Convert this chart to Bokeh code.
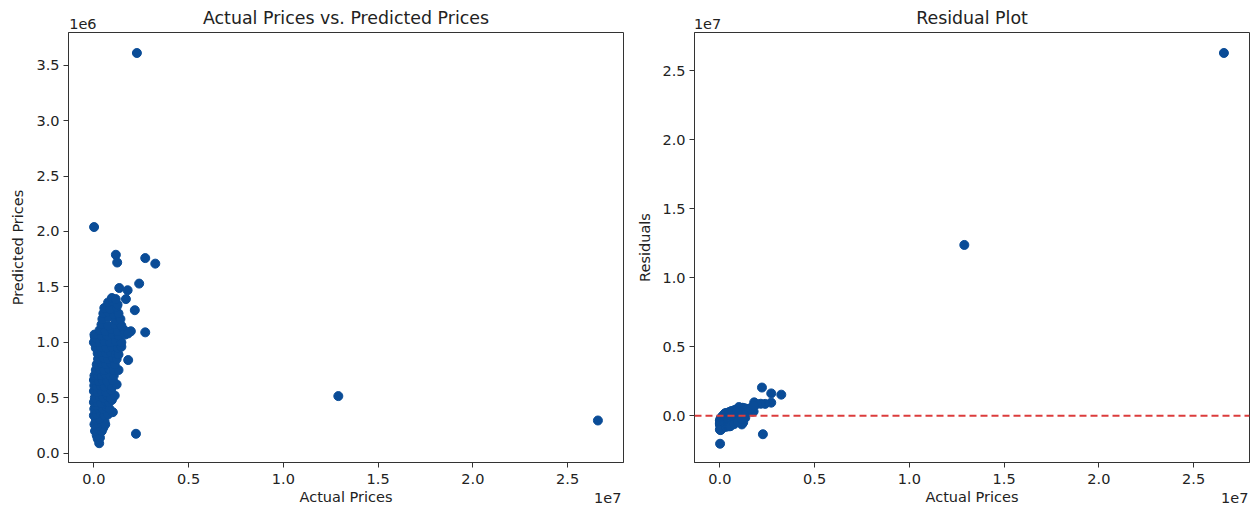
from bokeh.plotting import figure
from bokeh.models import Range1d, FixedTicker, Span, ColumnDataSource, CustomJSTickFormatter, LinearAxis
from bokeh.layouts import row
from bokeh.embed import file_html
from bokeh.resources import INLINE

# values in thousands of dollars
actual_k = [
    26600, 12900, 2270, 10, 1160, 1230, 2710, 3240, 2390, 1340, 1780, 1690, 2160, 2710, 1810, 2220, 50, 280,
    200, 320, 240, 150,
    60, 280, 420, 500, 170,
    30, 200, 380, 560, 600, 110, 300,
    0, 150, 350, 550, 750, 1000,
    20, 250, 450, 650, 820, 100,
    0, 180, 380, 600, 800, 950,
    50, 300, 500, 700, 880, 1100,
    0, 200, 400, 650, 900,
    20, 150, 350, 550, 800, 950, 1200,
    0, 250, 450, 700, 1000,
    30, 180, 400, 600, 850, 1050,
    100, 300, 550, 800, 1050, 1300,
    150, 400, 650, 900, 1100,
    220, 500, 750, 1000, 1200,
    200, 400, 650, 900, 1150, 1300,
    100, 350, 650, 950, 1250, 1450,
    0, 80, 300, 550, 850, 1150, 1450,
    30, 400, 700, 1000, 1300, 1650,
    300, 600, 900, 1250, 1600, 1950, 1800,
    400, 750, 1100, 1450,
    450, 750, 1150, 1400,
    500, 750, 1050, 1300,
    550, 850, 1200,
    750, 1000, 1250,
    950, 1150,
]
predicted_k = [
    295, 515, 3610, 2040, 1790, 1720, 1760, 1710, 1530, 1490, 1470, 1390, 1290, 1090, 840, 175, 1050, 90,
    130, 140, 170, 160,
    200, 210, 200, 230, 240,
    260, 270, 280, 290, 260, 300, 310,
    340, 350, 360, 340, 350, 370,
    400, 410, 400, 420, 400, 430,
    460, 460, 450, 470, 460, 480,
    500, 510, 500, 520, 500, 520,
    560, 550, 560, 550, 570,
    610, 600, 610, 600, 620, 600, 620,
    660, 650, 660, 650, 660,
    700, 710, 700, 710, 700, 700,
    750, 760, 750, 760, 750, 750,
    800, 810, 800, 810, 800,
    850, 860, 850, 860, 850,
    900, 910, 900, 910, 900, 890,
    950, 960, 950, 960, 950, 960,
    1000, 1040, 1000, 1010, 1000, 1010, 1000,
    1070, 1060, 1060, 1070, 1060, 1070,
    1110, 1100, 1120, 1100, 1110, 1100, 1080,
    1160, 1150, 1160, 1150,
    1210, 1230, 1200, 1210,
    1260, 1270, 1250, 1260,
    1310, 1300, 1320,
    1360, 1370, 1340,
    1400, 1390,
]
residuals_k = [
    26305, 12385, -1340, -2030, -630, -490, 950, 1530, 860, -150, 310, 300, 870, 1620, 970, 2045, -1000, 190,
    70, 180, 70, -10,
    -140, 70, 220, 270, -70,
    -230, -70, 100, 270, 340, -190, -10,
    -340, -200, -10, 210, 400, 630,
    -380, -160, 50, 230, 420, -330,
    -460, -280, -70, 130, 340, 470,
    -450, -210, 0, 180, 380, 580,
    -560, -350, -160, 100, 330,
    -590, -450, -260, -50, 180, 350, 580,
    -660, -400, -210, 50, 340,
    -670, -530, -300, -110, 150, 350,
    -650, -460, -200, 40, 300, 550,
    -650, -410, -150, 90, 300,
    -630, -360, -100, 140, 350,
    -700, -510, -250, -10, 250, 410,
    -850, -610, -300, -10, 300, 490,
    -1000, -960, -700, -460, -150, 140, 450,
    -1040, -660, -360, -70, 240, 580,
    -810, -500, -220, 150, 490, 850, 720,
    -760, -400, -60, 300,
    -760, -480, -50, 190,
    -760, -520, -200, 40,
    -760, -450, -120,
    -610, -370, -90,
    -450, -240,
]

x_ticks = [0, 5e6, 1e7, 1.5e7, 2e7, 2.5e7]
left_y_ticks = [0, 5e5, 1e6, 1.5e6, 2e6, 2.5e6, 3e6, 3.5e6]
right_y_ticks = [0, 5e6, 1e7, 1.5e7, 2e7, 2.5e7]

src = ColumnDataSource(dict(
    actual=[v * 1000 for v in actual_k],
    predicted=[v * 1000 for v in predicted_k],
    residual=[v * 1000 for v in residuals_k],
))

FONT = "DejaVu Sans"
TXT = "#222222"
DOT = "#0a4c97"
FS = "14.5px"
FRAME_W = 555
FRAME_H = 430


def text_axis(ax):
    ax.major_label_text_font = FONT
    ax.major_label_text_font_size = FS
    ax.major_label_text_color = TXT
    ax.axis_label_text_font = FONT
    ax.axis_label_text_font_size = FS
    ax.axis_label_text_font_style = "normal"
    ax.axis_label_text_color = TXT


def plain_axis(ax):
    text_axis(ax)
    ax.axis_line_color = None
    ax.major_tick_line_color = None
    ax.major_tick_out = 0
    ax.major_tick_in = 0
    ax.minor_tick_line_color = None


def make(title, ylabel, yrange, yt, yscale, offset_top_x, offset_bottom_x, ymark,
         left_border, right_border, ylabel_standoff):
    p = figure(frame_width=FRAME_W, frame_height=FRAME_H, output_backend="svg", toolbar_location=None,
               x_range=Range1d(-1.34e6, 2.795e7), y_range=yrange, title=None,
               min_border_left=left_border, min_border_right=right_border,
               min_border_top=32, min_border_bottom=0)
    p.grid.visible = False
    p.outline_line_color = "#333333"
    p.outline_line_width = 1
    p.background_fill_color = "white"
    p.border_fill_color = "white"
    for ax in (p.xaxis[0], p.yaxis[0]):
        text_axis(ax)
        ax.axis_line_color = "#333333"
        ax.major_tick_line_color = "#333333"
        ax.major_tick_out = 5
        ax.major_tick_in = 0
        ax.minor_tick_line_color = None
        ax.major_label_standoff = 4
    p.xaxis[0].major_label_standoff = 6
    p.xaxis[0].ticker = FixedTicker(ticks=x_ticks)
    p.yaxis[0].ticker = FixedTicker(ticks=yt)
    p.xaxis[0].formatter = CustomJSTickFormatter(code="return (tick/1e7).toFixed(1);")
    p.yaxis[0].formatter = CustomJSTickFormatter(code="return (tick/%g).toFixed(1);" % yscale)
    p.yaxis[0].axis_label = ylabel
    p.yaxis[0].axis_label_standoff = ylabel_standoff

    # title row, sharing its line with the offset text of the y axis
    top = LinearAxis(ticker=FixedTicker(ticks=[offset_top_x]),
                     formatter=CustomJSTickFormatter(code="return '%s';" % ymark),
                     axis_label=title)
    plain_axis(top)
    top.major_label_standoff = 4
    top.axis_label_text_font_size = "17.4px"
    top.axis_label_standoff = -12
    p.add_layout(top, "above")

    # x axis label row, sharing its line with the offset text of the x axis
    bottom = LinearAxis(ticker=FixedTicker(ticks=[offset_bottom_x]),
                        formatter=CustomJSTickFormatter(code="return '1e7';"),
                        axis_label="Actual Prices")
    plain_axis(bottom)
    bottom.major_label_standoff = 6
    bottom.axis_label_standoff = -17
    p.add_layout(bottom, "below")
    return p


p1 = make("Actual Prices vs. Predicted Prices", "Predicted Prices",
          Range1d(-0.084e6, 3.795e6), left_y_ticks, 1e6, -5.8e5, 2.712e7, "1e6", 68, 11, 7)
p1.scatter("actual", "predicted", source=src, size=9, color=DOT)

p2 = make("Residual Plot", "Residuals",
          Range1d(-0.339e7, 2.779e7), right_y_ticks, 1e7, -6.5e5, 2.717e7, "1e7", 58, 8, 6)
p2.scatter("actual", "residual", source=src, size=9, color=DOT)
p2.add_layout(Span(location=0, dimension="width", line_color="#dc3c3c", line_dash="7 4", line_width=2))

layout = row(p1, p2)
open("out.html", "w").write(file_html(layout, INLINE))
